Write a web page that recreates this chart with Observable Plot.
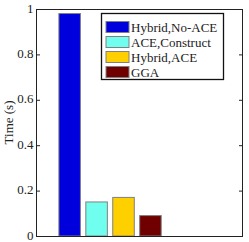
<!DOCTYPE html>
<html><head><meta charset="utf-8">
<script src="https://cdn.jsdelivr.net/npm/d3@7"></script>
<script src="https://cdn.jsdelivr.net/npm/@observablehq/plot@0.6"></script>
<style>
html,body{margin:0;padding:0;background:#fff;}
#chart{position:relative;width:249px;height:242px;}
</style>
</head><body><div id="chart"></div>
<script>
const series = ["Hybrid,No-ACE", "ACE,Construct", "Hybrid,ACE", "GGA"];
const values = [0.98, 0.15, 0.17, 0.09];
const colors = ["#0000DC", "#70FFEE", "#FFD000", "#700000"];
const yTicks = [0, 0.2, 0.4, 0.6, 0.8, 1];
const yTickLabels = ["0", "0.2", "0.4", "0.6", "0.8", "1"];
const yLabel = "Time (s)";

const rows = series.map((s, i) => ({series: s, idx: i, value: values[i]}));
const FONT = "Liberation Serif";

const plot = Plot.plot({
  width: 249, height: 242,
  marginLeft: 36, marginRight: 7, marginTop: 9, marginBottom: 6,
  style: {fontFamily: FONT, fontSize: "13px", background: "#fff", color: "#222", overflow: "visible"},
  x: {type: "linear", domain: [-1.25, 6.4], axis: null},
  y: {domain: [0, 1], label: null},
  color: {domain: series, range: colors},
  marks: [
    Plot.rectY(rows, {x1: d => d.idx - 0.4, x2: d => d.idx + 0.4, y1: 0, y2: "value", fill: "series", stroke: "#808080", strokeWidth: 1}),
    Plot.axisY(yTicks, {anchor: "left", tickSize: 0, tickPadding: 3, dy: -1, tickFormat: (d, i) => yTickLabels[i], label: null, fontSize: 13}),
    Plot.axisY(yTicks, {anchor: "left", tickSize: -4, tickFormat: () => "", label: null, stroke: "#222"}),
    Plot.axisY(yTicks, {anchor: "right", tickSize: -4, tickFormat: () => "", label: null, stroke: "#222"}),
    Plot.frame({stroke: "#222"})
  ]
});
document.getElementById("chart").appendChild(plot);

const svg = d3.select(plot);
svg.append("text")
  .attr("transform", "translate(8,122.5) rotate(-90)")
  .attr("text-anchor", "middle").attr("dy", "0.35em")
  .attr("font-family", FONT).attr("font-size", 13).attr("fill", "#222")
  .text(yLabel);

const lg = svg.append("g").attr("font-family", FONT).attr("font-size", 13).attr("text-anchor", "start");
lg.append("rect").attr("x", 101.5).attr("y", 13.5).attr("width", 122).attr("height", 66)
  .style("fill", "#ffffff").style("stroke", "#111111").style("stroke-width", "1.3px");
series.forEach((s, i) => {
  const cy = 27 + i * 15;
  lg.append("rect").attr("x", 106).attr("y", cy - 5.5).attr("width", 23).attr("height", 11)
    .style("fill", colors[i]).style("stroke", "#808080").style("stroke-width", "1px");
  lg.append("text").attr("x", 131).attr("y", cy).attr("dy", "0.35em")
    .attr("text-anchor", "start").style("fill", "#222").text(s);
});
</script></body></html>
